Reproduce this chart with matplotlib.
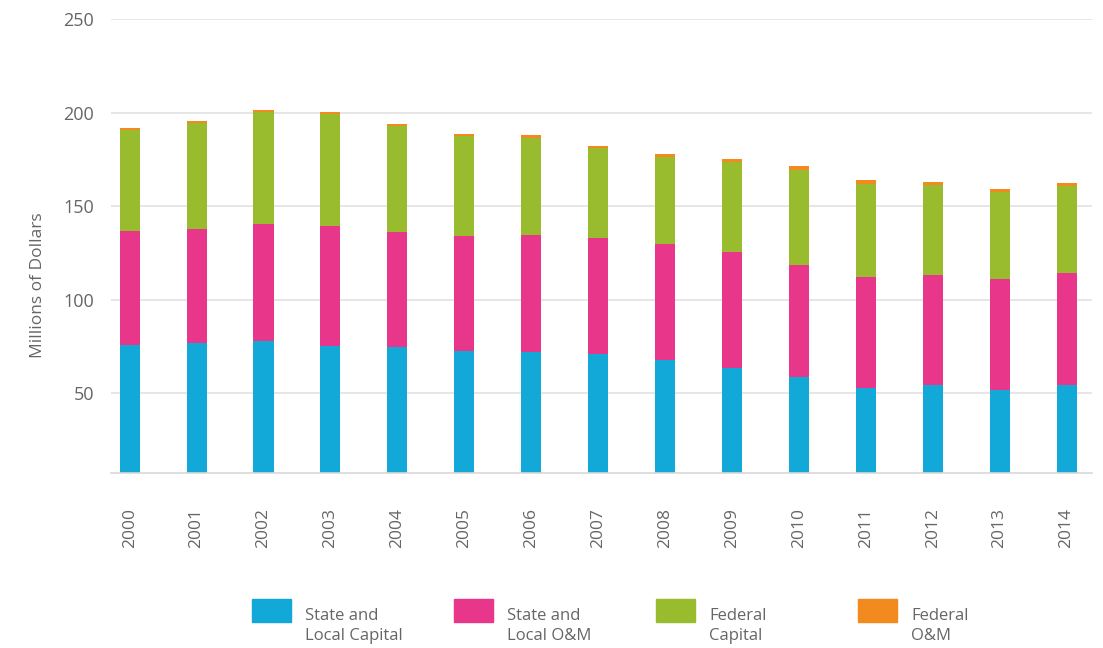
import numpy as np
import matplotlib
matplotlib.use("Agg")
import matplotlib.pyplot as plt
from matplotlib.patches import Rectangle

# data (millions of dollars)
years = [str(y) for y in range(2000, 2015)]
sl_capital = [75.9, 77.0, 77.8, 75.5, 75.0, 72.5, 72.0, 71.1, 68.1, 63.5, 58.7, 53.0, 54.6, 51.6, 54.6]
sl_om = [60.8, 60.6, 62.5, 63.9, 61.2, 61.5, 62.4, 61.7, 61.9, 62.2, 59.9, 59.2, 58.5, 59.7, 59.9]
fed_capital = [54.0, 57.0, 60.2, 59.8, 56.8, 53.5, 52.2, 48.2, 46.5, 48.0, 51.0, 49.9, 48.0, 46.2, 46.1]
fed_om = [1.0, 1.0, 1.0, 1.0, 1.0, 1.2, 1.2, 1.3, 1.5, 1.5, 1.7, 1.7, 1.7, 1.7, 1.8]

series = [sl_capital, sl_om, fed_capital, fed_om]
labels = ["State and\nLocal Capital", "State and\nLocal O&M", "Federal\nCapital", "Federal\nO&M"]
colors = ["#12a8d8", "#e8368a", "#98bc2e", "#f28a1e"]

plt.rcParams['font.family'] = ['Open Sans', 'DejaVu Sans']
txt = "#666666"

fig = plt.figure(figsize=(11.03, 6.48), dpi=100)
ax = fig.add_axes([0.1006, 0.2701, 0.8894, 0.7006])

x = np.arange(len(years))
bottom = np.zeros(len(years))
for vals, c in zip(series, colors):
    ax.bar(x, vals, width=0.3, bottom=bottom, color=c, zorder=2)
    bottom += np.array(vals)

ax.set_xlim(-0.28, 14.38)
ax.set_ylim(7.5, 250)
ax.set_yticks([50, 100, 150, 200, 250])
ax.set_xticks(x)
ax.set_xticklabels(years, rotation=90)
ax.yaxis.grid(True, color="#e2e2e2", lw=1.2, zorder=0)
for s in ["top", "right", "left"]:
    ax.spines[s].set_visible(False)
ax.spines["bottom"].set_color("#d8d8d8")
ax.spines["bottom"].set_linewidth(1.2)
ax.tick_params(axis="y", length=0, pad=12, labelsize=13, labelcolor=txt)
ax.tick_params(axis="x", length=0, pad=25, labelsize=12.5, labelcolor=txt)

fig.text(0.034, 1 - 285 / 648, "Millions of Dollars", rotation=90, ha="center", va="center",
         fontsize=12.5, color=txt)

# legend, drawn by hand so the swatch lines up with the first text line
W, H = 1103, 648
for i, (lab, c) in enumerate(zip(labels, colors)):
    x0 = 252 + i * 202
    fig.add_artist(Rectangle((x0 / W, 1 - 622 / H), 39 / W, 23 / H,
                             transform=fig.transFigure, color=c))
    fig.text((x0 + 53) / W, 1 - 608 / H, lab, ha="left", va="top", fontsize=12,
             color=txt, linespacing=1.35)

fig.savefig("out.png", dpi=100, facecolor="white")
